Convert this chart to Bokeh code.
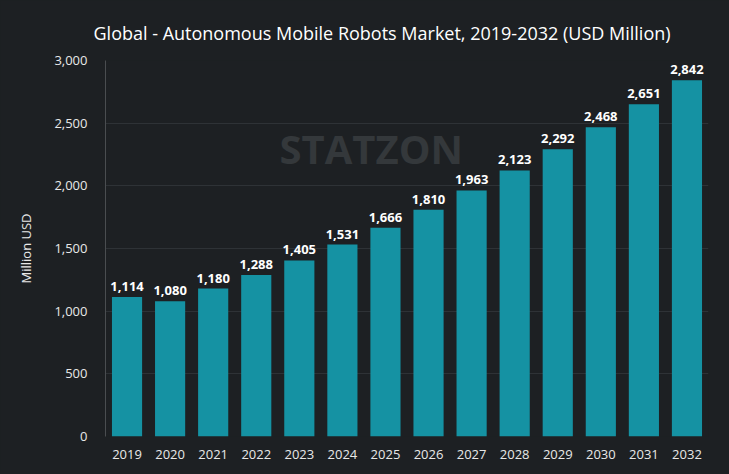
from bokeh.plotting import figure
from bokeh.models import ColumnDataSource, Range1d, NumeralTickFormatter, FixedTicker, Label, LabelSet, Title
from bokeh.core.properties import value
from bokeh.embed import file_html
from bokeh.resources import INLINE

years = ["2019", "2020", "2021", "2022", "2023", "2024", "2025", "2026", "2027", "2028", "2029", "2030", "2031", "2032"]
values = [1114, 1080, 1180, 1288, 1405, 1531, 1666, 1810, 1963, 2123, 2292, 2468, 2651, 2842]
y_ticks = [0, 500, 1000, 1500, 2000, 2500, 3000]

BG = "#1d2023"
BAR = "#1592a3"
TXT = "#e8e8e8"

idx = list(range(len(years)))
src = ColumnDataSource(dict(x=idx, top=values, label=[f"{v:,}" for v in values]))

p = figure(width=729, height=474, output_backend="svg", toolbar_location=None,
           x_range=Range1d(-0.5, len(years) - 0.5), y_range=Range1d(0, 3000),
           min_border_left=105, min_border_right=21, min_border_top=60, min_border_bottom=38)
p.background_fill_color = BG
p.border_fill_color = BG
p.outline_line_color = None

p.vbar(x="x", top="top", width=0.7, source=src, color=BAR, line_color=None)

labels = LabelSet(x="x", y="top", text="label", source=src, text_align="center",
                  text_baseline="bottom", y_offset=6, text_color="white",
                  text_font=value("Open Sans"), text_font_size=value("13px"),
                  text_font_style=value("bold"))
p.add_layout(labels)

wm = Label(x=5.67, y=2300, text="STATZON", text_align="center", text_baseline="middle",
           text_color="#34383b", text_font="Open Sans", text_font_size="40px",
           text_font_style="bold")
p.add_layout(wm)

# axes
p.xaxis.ticker = FixedTicker(ticks=idx)
p.xaxis.major_label_overrides = {i: y for i, y in zip(idx, years)}
p.xaxis.axis_line_color = None
p.xaxis.major_tick_line_color = None
p.xaxis.minor_tick_line_color = None
p.xaxis.major_label_text_color = TXT
p.xaxis.major_label_text_font = "Open Sans"
p.xaxis.major_label_text_font_size = "13px"
p.xaxis.major_label_standoff = 7

p.yaxis.ticker = FixedTicker(ticks=y_ticks)
p.yaxis.formatter = NumeralTickFormatter(format="0,0")
p.yaxis.axis_line_color = "#4a4d50"
p.yaxis.major_tick_line_color = None
p.yaxis.minor_tick_line_color = None
p.yaxis.major_label_text_color = TXT
p.yaxis.major_label_text_font = "Open Sans"
p.yaxis.major_label_text_font_size = "13px"
p.yaxis.major_label_standoff = 12
p.yaxis.axis_label = "Million USD"
p.yaxis.axis_label_text_color = TXT
p.yaxis.axis_label_text_font = "Open Sans"
p.yaxis.axis_label_text_font_size = "13px"
p.yaxis.axis_label_text_font_style = "normal"
p.yaxis.axis_label_standoff = 16

p.xgrid.grid_line_color = None
p.ygrid.grid_line_color = "#2e3236"

t = Title(text="Global - Autonomous Mobile Robots Market, 2019-2032 (USD Million)",
          align="left", offset=-12, text_color="white", text_font="Open Sans",
          text_font_size="18px", text_font_style="normal", standoff=32)
p.add_layout(t, "above")

html = file_html(p, INLINE)
html = html.replace("<head>", "<head><style>body{background:#1d2023;}</style>", 1)
open("out.html", "w").write(html)
